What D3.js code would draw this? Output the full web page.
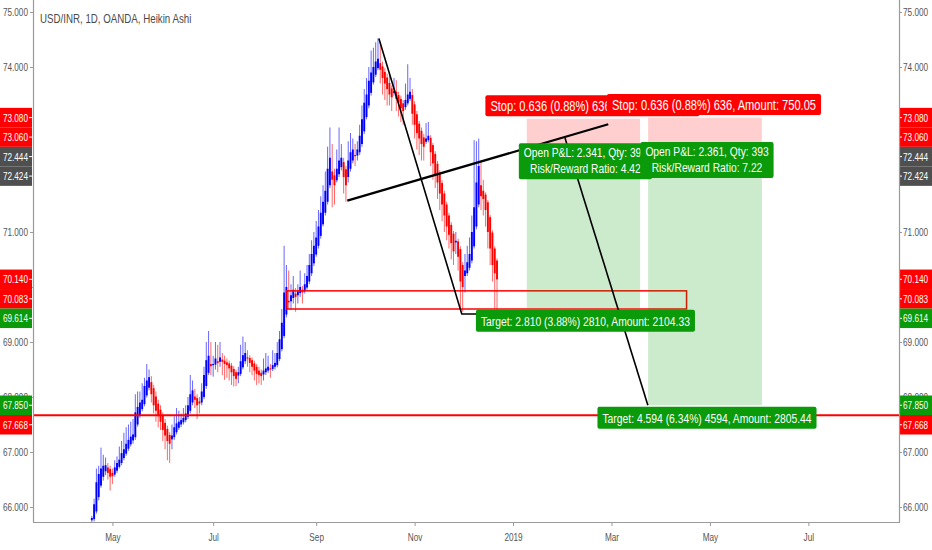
<!DOCTYPE html>
<html>
<head>
<meta charset="utf-8">
<script src="https://d3js.org/d3.v7.min.js"></script>
<style>
  html, body { margin: 0; padding: 0; background: #ffffff; }
  svg { display: block; }
  text { font-family: "Liberation Sans", Arial, sans-serif; }
</style>
</head>
<body>
<svg id="chart"></svg>
<script>
// ---------------- DATA ----------------
const chartTitle = "USD/INR, 1D, OANDA, Heikin Ashi";
const firstBarDate = "2018-04-18";           // date of bar index 0 (trading days only)
const visibleBars = [-25.7, 352.6];          // visible range in bar indices
const priceRange = [75, 66];                 // price at tick 75.000 and 66.000

const haOpen = [
  65.76,65.78,65.92,66.18,66.39,66.55,66.65,66.72,66.69,66.62,
  66.59,66.66,66.73,66.80,66.89,66.97,67.06,67.14,67.21,67.27,
  67.50,67.66,67.78,67.87,68.03,68.17,68.27,68.16,68.01,67.88,
  67.77,67.66,67.53,67.42,67.31,67.23,67.27,67.36,67.44,67.50,
  67.54,67.58,67.64,67.75,67.90,68.01,67.98,67.92,67.90,68.00,
  68.20,68.44,68.60,68.58,68.59,68.65,68.64,68.68,68.66,68.63,
  68.61,68.57,68.51,68.45,68.39,68.42,68.54,68.65,68.72,68.71,
  68.67,68.61,68.55,68.48,68.44,68.41,68.45,68.48,68.52,68.51,
  68.55,68.58,68.69,68.87,69.11,69.50,69.75,69.74,69.80,69.88,
  69.85,69.89,69.95,69.92,69.99,70.10,70.25,70.43,70.59,70.75,
  70.93,71.14,71.35,71.55,71.85,72.10,72.03,71.94,72.05,72.18,
  72.27,72.14,72.00,72.15,72.30,72.40,72.39,72.45,72.60,72.83,
  73.09,73.30,73.53,73.72,73.86,73.98,74.07,74.01,73.91,73.81,
  73.71,73.61,73.53,73.55,73.49,73.42,73.34,73.27,73.34,73.42,
  73.49,73.32,73.14,72.97,72.84,72.72,72.64,72.67,72.71,72.58,
  72.42,72.24,72.07,71.89,71.70,71.50,71.30,71.13,70.97,70.81,
  70.83,70.69,70.40,70.20,70.25,70.35,70.48,70.74,71.10,71.50,
  71.85,71.75,71.68,71.54,71.27,70.99,70.70,70.48
];
const haHigh = [
  65.84,66.15,66.70,66.75,67.08,66.95,66.90,66.80,66.75,66.70,
  66.85,66.92,67.10,67.20,67.35,67.45,67.50,67.55,67.60,68.05,
  68.10,68.10,68.25,68.35,68.60,68.50,68.38,68.22,68.10,67.95,
  67.85,67.72,67.60,67.48,67.36,67.50,67.65,67.80,67.75,67.70,
  67.80,67.85,68.00,68.40,68.30,68.15,68.05,68.00,68.25,68.55,
  69.00,69.20,69.00,68.75,69.00,68.95,69.00,68.80,68.75,68.70,
  68.66,68.62,68.56,68.50,68.55,68.95,69.10,69.00,68.85,68.76,
  68.72,68.66,68.60,68.55,68.50,68.70,68.80,68.75,68.60,68.85,
  68.80,69.00,69.20,69.60,70.75,70.40,70.30,70.05,70.20,69.98,
  70.05,70.30,70.02,70.25,70.40,70.60,70.85,71.00,71.20,71.40,
  71.65,71.85,72.10,72.55,72.90,72.60,72.15,72.50,72.90,72.60,
  72.35,72.20,72.65,72.80,72.70,72.60,72.65,72.95,73.30,73.60,
  73.80,74.00,74.30,74.35,74.45,74.52,74.45,74.10,73.98,73.88,
  73.90,73.66,73.80,73.76,73.55,73.48,73.40,73.70,74.05,73.80,
  73.60,73.38,73.20,73.02,72.90,72.78,72.98,73.00,72.76,72.62,
  72.47,72.29,72.12,71.94,71.75,71.55,71.35,71.18,71.02,71.00,
  70.88,70.74,70.45,70.60,70.75,70.90,71.30,72.67,72.65,72.70,
  72.30,71.95,71.72,71.58,71.31,71.03,70.74,70.52
];
const haLow = [
  65.72,65.74,65.88,66.12,66.35,66.48,66.58,66.50,66.30,66.42,
  66.55,66.62,66.70,66.76,66.85,66.93,67.02,67.10,67.15,67.22,
  67.46,67.62,67.74,67.83,67.99,68.12,67.90,67.70,67.55,67.45,
  67.40,67.20,67.05,66.85,66.80,67.05,67.22,67.32,67.40,67.45,
  67.50,67.54,67.60,67.70,67.85,67.80,67.60,67.70,67.85,67.96,
  68.15,68.40,68.40,68.37,68.50,68.45,68.55,68.40,68.31,68.35,
  68.30,68.22,68.19,68.20,68.25,68.38,68.50,68.60,68.55,68.45,
  68.40,68.30,68.22,68.25,68.22,68.30,68.40,68.44,68.35,68.47,
  68.50,68.54,68.65,68.83,69.07,69.45,69.60,69.58,69.70,69.55,
  69.70,69.82,69.70,69.88,69.95,70.05,70.20,70.38,70.55,70.70,
  70.88,71.10,71.30,71.50,71.80,71.45,71.50,71.90,72.00,72.12,
  71.70,71.55,71.90,72.10,72.25,72.20,72.30,72.40,72.55,72.78,
  73.05,73.25,73.48,73.68,73.82,73.94,73.70,73.50,73.40,73.30,
  73.30,73.20,73.48,73.20,73.10,73.00,72.95,73.22,73.30,73.38,
  72.95,72.70,72.50,72.40,72.30,72.30,72.60,72.63,72.20,71.95,
  71.80,71.60,71.40,71.20,71.00,70.85,70.70,70.50,70.40,70.60,
  70.30,69.60,69.55,69.90,70.20,70.30,70.43,70.70,71.05,71.45,
  71.40,71.30,71.10,70.70,70.40,70.10,69.60,69.50
];
const haClose = [
  65.80,66.05,66.45,66.60,66.70,66.75,66.76,66.62,66.55,66.56,
  66.72,66.80,66.86,66.98,67.05,67.15,67.22,67.28,67.32,67.72,
  67.82,67.90,67.95,68.20,68.30,68.36,68.05,67.85,67.75,67.65,
  67.55,67.40,67.30,67.20,67.15,67.30,67.45,67.52,67.55,67.58,
  67.62,67.70,67.85,68.05,68.12,67.95,67.85,67.88,68.10,68.40,
  68.67,68.75,68.56,68.60,68.70,68.62,68.72,68.64,68.60,68.58,
  68.52,68.45,68.38,68.33,68.45,68.65,68.76,68.80,68.70,68.62,
  68.55,68.48,68.42,68.40,68.38,68.48,68.52,68.55,68.50,68.58,
  68.62,68.80,69.05,69.35,69.90,70.00,69.72,69.85,69.95,69.82,
  69.92,70.00,69.90,70.05,70.20,70.40,70.60,70.75,70.90,71.10,
  71.35,71.55,71.75,72.15,72.35,71.95,71.85,72.15,72.30,72.35,
  72.00,71.85,72.30,72.45,72.50,72.38,72.50,72.75,73.05,73.35,
  73.50,73.75,73.90,74.00,74.10,74.15,73.95,73.80,73.70,73.60,
  73.50,73.45,73.56,73.42,73.35,73.25,73.20,73.40,73.50,73.55,
  73.15,72.95,72.80,72.70,72.60,72.55,72.70,72.75,72.45,72.25,
  72.05,71.90,71.70,71.50,71.30,71.10,70.95,70.80,70.65,70.84,
  70.55,70.10,70.00,70.30,70.45,70.60,71.00,71.45,71.90,72.20,
  71.65,71.60,71.40,71.00,70.70,70.40,70.25,70.14
];

const priceTicks = [75, 74, 73, 72, 71, 70, 69, 68, 67, 66];
const monthTickDates = ["2018-05-01","2018-07-02","2018-09-03","2018-11-01","2019-01-01","2019-03-01","2019-05-01","2019-07-01"];
const monthTickLabels = ["May","Jul","Sep","Nov","2019","Mar","May","Jul"];

// drawings, as [bar index, price]
const wedgeLine = [[111.6, 71.57], [225.6, 72.96]];
const dropLine = [[125.4, 74.52], [161.6, 69.51], [168.7, 69.51]];
const projectionLine = [[206.7, 72.71], [242.9, 67.85]];
const zoneBars = [85.2, 259.8];
const zonePrices = [69.93, 69.60];
const supportPrice = 67.668;

// two short-position tools
const posStartBar = [190, 243];
const posEndBar = [239.5, 292.7];
const posEntry = [72.424, 72.444];
const posStop = [73.060, 73.080];
const posTarget = [69.614, 67.850];
const stopTexts = ["Stop: 0.636 (0.88%) 636, Amount: 750.05", "Stop: 0.636 (0.88%) 636, Amount: 750.05"];
const pnlTexts = ["Open P&L: 2.341, Qty: 393", "Open P&L: 2.361, Qty: 393"];
const rrTexts = ["Risk/Reward Ratio: 4.42", "Risk/Reward Ratio: 7.22"];
const targetTexts = ["Target: 2.810 (3.88%) 2810, Amount: 2104.33", "Target: 4.594 (6.34%) 4594, Amount: 2805.44"];

// price-scale labels
const axisLabelValues = [73.080, 73.060, 72.444, 72.424, 70.140, 70.083, 69.614, 67.850, 67.668];
const axisLabelKinds  = ["red","red","gray","gray","red","red","green","green","red"];

// ---------------- STYLE ----------------
const W = 932, H = 550;
const P = { left: 33, right: 899, top: 0, bottom: 522 };
const SQ = 0.76;                     // horizontal squeeze of glyphs
const COL = { up: "#0000ff", down: "#ff0000", red: "#ff0000", green: "#0a9a0a", gray: "#4f4f4f",
              axis: "#9a9a9a", tick: "#555555" };

const svg = d3.select("#chart").attr("width", W).attr("height", H);
svg.append("rect").attr("width", W).attr("height", H).attr("fill", "#fff");

// ---------------- SCALES ----------------
const parse = s => new Date(s + "T00:00:00Z");
const isWeekday = d => d.getUTCDay() !== 0 && d.getUTCDay() !== 6;
function barIndexOf(s) {
  const d = parse(s), f = parse(firstBarDate);
  if (d >= f) return d3.utcDay.range(f, d).filter(isWeekday).length;
  return -d3.utcDay.range(d, f).filter(isWeekday).length;
}
const x = d3.scaleLinear().domain(visibleBars).range([P.left, P.right]);
const y = d3.scaleLinear().domain(priceRange).range([12, 507]);

// squeeze glyphs horizontally; returns the resulting width
function squeeze(sel) {
  let w = 0;
  sel.each(function () {
    const L = this.getComputedTextLength();
    if (L > 0) {
      this.setAttribute("textLength", (L * SQ).toFixed(2));
      this.setAttribute("lengthAdjust", "spacingAndGlyphs");
      w = Math.max(w, L * SQ);
    }
  });
  return w;
}

// ---------------- PRICE-SCALE LABEL PLACEMENT ----------------
const LH = 19.5;
const order = d3.range(axisLabelValues.length).sort((a, b) => axisLabelValues[b] - axisLabelValues[a]);
let prevBottom = -Infinity;
const placed = [];
order.forEach(k => {
  const top = Math.max(y(axisLabelValues[k]) - LH / 2, prevBottom);
  prevBottom = top + LH;
  placed.push({ k, top });
});
const coveredByLabel = v => placed.some(p => y(v) - 4 >= p.top && y(v) + 4 <= p.top + LH);

// ---------------- AXES (tick labels) ----------------
const fmt = d3.format(".3f");
const visibleTicks = priceTicks.filter(v => !coveredByLabel(v));
const gL = svg.append("g").attr("transform", `translate(${P.left},0)`)
  .call(d3.axisLeft(y).tickValues(visibleTicks).tickFormat(fmt).tickSize(3).tickPadding(2).tickSizeOuter(0));
const gR = svg.append("g").attr("transform", `translate(${P.right},0)`)
  .call(d3.axisRight(y).tickValues(visibleTicks).tickFormat(fmt).tickSize(3).tickPadding(1).tickSizeOuter(0));
const monthBars = monthTickDates.map(barIndexOf);
const gB = svg.append("g").attr("transform", `translate(0,${P.bottom})`)
  .call(d3.axisBottom(x).tickValues(monthBars).tickFormat((d, i) => monthTickLabels[i]).tickSize(4).tickPadding(7).tickSizeOuter(0));
[gL, gR, gB].forEach(g => {
  g.select(".domain").remove();
  g.selectAll(".tick line").attr("stroke", COL.axis);
  g.selectAll(".tick text").attr("fill", COL.tick).style("font-size", "10.8px")
    .style("font-family", '"Liberation Sans", Arial, sans-serif');
  squeeze(g.selectAll(".tick text"));
});

// ---------------- PLOT AREA ----------------
svg.append("clipPath").attr("id", "plotClip").append("rect")
  .attr("x", P.left).attr("y", P.top).attr("width", P.right - P.left).attr("height", P.bottom - P.top);
const plot = svg.append("g").attr("clip-path", "url(#plotClip)");

// candles
const bars = d3.range(haOpen.length).map(i => ({ i, o: haOpen[i], h: haHigh[i], l: haLow[i], c: haClose[i] }));
const cg = plot.append("g");
cg.selectAll("line.wick").data(bars).join("line").attr("class", "wick")
  .attr("x1", d => x(d.i)).attr("x2", d => x(d.i))
  .attr("y1", d => y(d.h)).attr("y2", d => y(d.l))
  .attr("stroke", d => d.c >= d.o ? COL.up : COL.down).attr("stroke-width", 1).attr("stroke-opacity", 0.6);
cg.selectAll("rect.body").data(bars).join("rect").attr("class", "body")
  .attr("x", d => x(d.i) - 0.95).attr("width", 1.9)
  .attr("y", d => y(Math.max(d.o, d.c)))
  .attr("height", d => Math.max(1.2, Math.abs(y(d.o) - y(d.c))))
  .attr("fill", d => d.c >= d.o ? COL.up : COL.down);

// red rectangle zone
plot.append("rect")
  .attr("x", x(zoneBars[0])).attr("width", x(zoneBars[1]) - x(zoneBars[0]))
  .attr("y", y(zonePrices[0])).attr("height", y(zonePrices[1]) - y(zonePrices[0]))
  .attr("fill", "none").attr("stroke", COL.red).attr("stroke-width", 1.5);

// horizontal support line
plot.append("line").attr("x1", P.left).attr("x2", P.right)
  .attr("y1", y(supportPrice)).attr("y2", y(supportPrice))
  .attr("stroke", COL.red).attr("stroke-width", 2);

// position zones
posStartBar.forEach((sb, k) => {
  const x0 = x(sb), x1 = x(posEndBar[k]);
  plot.append("rect").attr("x", x0).attr("width", x1 - x0)
    .attr("y", y(posStop[k])).attr("height", y(posEntry[k]) - y(posStop[k]))
    .attr("fill", "rgba(255,0,0,0.19)");
  plot.append("rect").attr("x", x0).attr("width", x1 - x0)
    .attr("y", y(posEntry[k])).attr("height", y(posTarget[k]) - y(posEntry[k]))
    .attr("fill", "rgba(0,150,0,0.2)");
});

// trend lines
const lineGen = d3.line().x(d => x(d[0])).y(d => y(d[1]));
plot.append("path").attr("d", lineGen(wedgeLine)).attr("fill", "none").attr("stroke", "#000").attr("stroke-width", 2.2);
plot.append("path").attr("d", lineGen(dropLine)).attr("fill", "none").attr("stroke", "#000").attr("stroke-width", 1.6);
plot.append("path").attr("d", lineGen(projectionLine)).attr("fill", "none").attr("stroke", "#000").attr("stroke-width", 1.6);

// labels of the position tools
function boxLabel(lines, cx, top, h, fill, fontSize) {
  const g = plot.append("g");
  const r = g.append("rect").attr("fill", fill).attr("rx", 2).attr("ry", 2);
  let wmax = 0;
  lines.forEach((t, j) => {
    const tx = g.append("text").text(t)
      .attr("x", cx).attr("y", top + (lines.length === 1 ? h / 2 + 5 : 14 + j * 16))
      .attr("text-anchor", "middle").attr("fill", "#fff").style("font-size", fontSize);
    wmax = Math.max(wmax, squeeze(tx));
  });
  const w = wmax + 10;
  r.attr("x", cx - w / 2).attr("y", top).attr("width", w).attr("height", h);
}
posStartBar.forEach((sb, k) => {
  const cx = (x(sb) + x(posEndBar[k])) / 2;
  boxLabel([stopTexts[k]], cx + 9, y(posStop[k]) - 23.5, 21, COL.red, "14.6px");
});
posStartBar.forEach((sb, k) => {
  const cx = (x(sb) + x(posEndBar[k])) / 2;
  boxLabel([pnlTexts[k], rrTexts[k]], cx + 2, y(posEntry[k]) - 10.5, 36, COL.green, "13.5px");
});
posStartBar.forEach((sb, k) => {
  const cx = (x(sb) + x(posEndBar[k])) / 2;
  boxLabel([targetTexts[k]], cx + 2, y(posTarget[k]) + 1.5, 22, COL.green, "13.6px");
});

// ---------------- PRICE-SCALE LABELS ----------------
[[0, P.left - 1, "end", P.left - 5, P.left - 4, P.left], [P.right + 1, W, "start", P.right + 4, P.right, P.right + 3]]
  .forEach(([bx0, bx1, anchor, tx, t0, t1]) => {
    placed.forEach(({ k, top }) => {
      const fill = COL[axisLabelKinds[k]];
      svg.append("rect").attr("x", bx0).attr("y", top).attr("width", bx1 - bx0).attr("height", LH).attr("fill", fill);
      const t = svg.append("text").text(fmt(axisLabelValues[k]))
        .attr("x", tx).attr("y", top + LH / 2 + 4).attr("text-anchor", anchor)
        .attr("fill", "#fff").style("font-size", "10.8px");
      squeeze(t);
      svg.append("line").attr("x1", t0).attr("x2", t1).attr("y1", top + LH / 2).attr("y2", top + LH / 2)
        .attr("stroke", "#fff").attr("stroke-width", 1);
    });
  });

// ---------------- AXIS LINES ----------------
svg.append("line").attr("x1", P.left + 0.5).attr("x2", P.left + 0.5).attr("y1", 0).attr("y2", P.bottom)
  .attr("stroke", COL.axis).attr("stroke-width", 1.2);
svg.append("line").attr("x1", P.right + 0.5).attr("x2", P.right + 0.5).attr("y1", 0).attr("y2", P.bottom)
  .attr("stroke", COL.axis).attr("stroke-width", 1.2);
svg.append("line").attr("x1", P.left).attr("x2", P.right + 1).attr("y1", P.bottom + 0.5).attr("y2", P.bottom + 0.5)
  .attr("stroke", COL.axis).attr("stroke-width", 1.2);

// ---------------- TITLE ----------------
const title = svg.append("text").text(chartTitle).attr("x", 40).attr("y", 23)
  .attr("fill", "#4a4a4a").style("font-size", "12.8px");
squeeze(title);
</script>
</body>
</html>
